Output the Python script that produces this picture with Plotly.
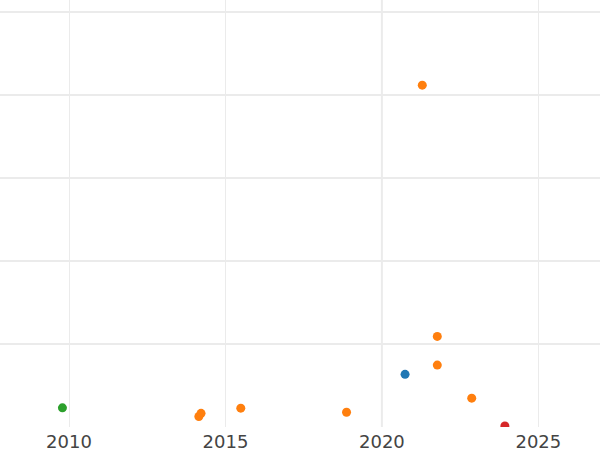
import plotly.graph_objects as go

# Data (x = year, y = value in gridline units)
blue_x = [2020.74]
blue_y = [0.64]

orange_x = [2014.15, 2014.22, 2015.49, 2018.87, 2021.29, 2021.77, 2021.77, 2022.87]
orange_y = [0.133, 0.17, 0.233, 0.184, 4.12, 1.096, 0.751, 0.353]

green_x = [2009.79]
green_y = [0.237]

red_x = [2023.93]
red_y = [0.018]

x_ticks = [2010, 2015, 2020, 2025]

fig = go.Figure()
for name, xs, ys, col in [
    ("Series A", blue_x, blue_y, "#1f77b4"),
    ("Series B", orange_x, orange_y, "#ff7f0e"),
    ("Series C", green_x, green_y, "#2ca02c"),
    ("Series D", red_x, red_y, "#d62728"),
]:
    fig.add_trace(go.Scatter(x=xs, y=ys, mode="markers", name=name,
                             marker=dict(color=col, size=9)))

fig.add_shape(type="line", xref="x", yref="paper", x0=2020, x1=2020, y0=0, y1=1,
              line=dict(color="#ebebeb", width=2), layer="below")

fig.update_layout(
    width=600, height=450,
    margin=dict(l=0, r=0, t=0, b=23),
    paper_bgcolor="white", plot_bgcolor="white",
    showlegend=False,
    font=dict(family="DejaVu Sans", size=18, color="#444"),
    xaxis=dict(range=[2007.795, 2026.97], tickvals=x_ticks, showgrid=True,
               gridcolor="#ebebeb", gridwidth=1, zeroline=False, showline=False,
               ticks="", ticklabelstandoff=2, automargin=False),
    yaxis=dict(range=[0.006, 5.145], dtick=1, tick0=0, showgrid=True,
               gridcolor="#ebebeb", gridwidth=2, zeroline=False,
               showticklabels=False, ticks="", automargin=False),
)

fig.write_html("out.html", config={"displayModeBar": False},
               post_script="document.body.style.margin='0';document.body.style.overflow='hidden';")
